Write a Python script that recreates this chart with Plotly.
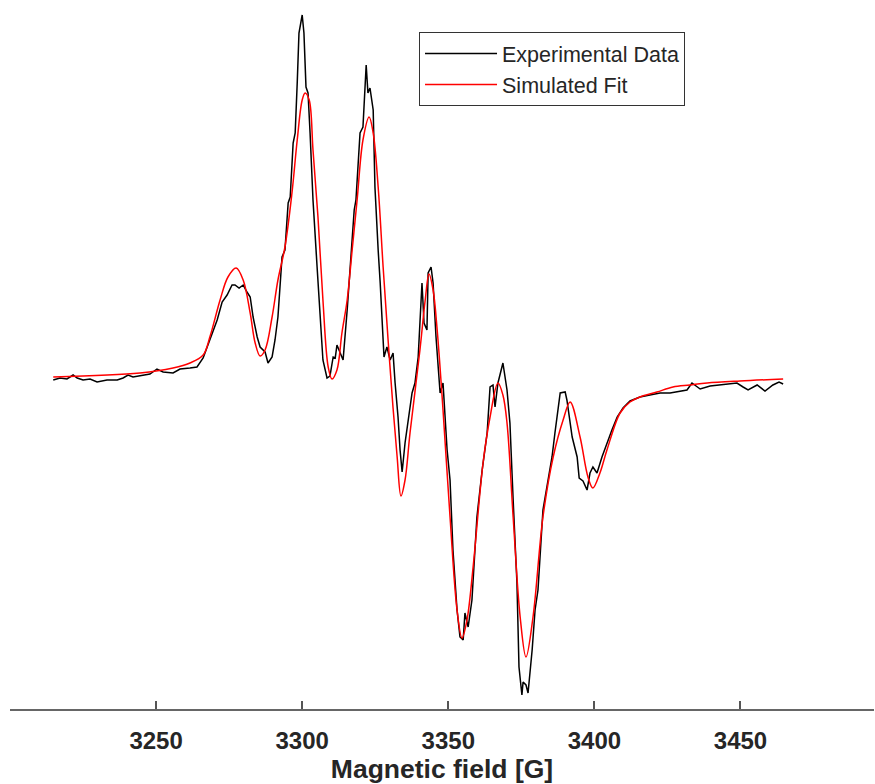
import plotly.graph_objects as go

# Experimental EPR spectrum (field in G, intensity in arbitrary units)
field_exp = [3214.8, 3217.1, 3219.5, 3221.6, 3223.0, 3225.0, 3227.4, 3229.8, 3233.2, 3236.7,
             3238.7, 3240.4, 3242.1, 3244.5, 3247.9, 3250.3, 3252.4, 3255.8, 3258.2, 3261.6,
             3264.0, 3266.1, 3268.5, 3270.9, 3272.6, 3274.3, 3276.0, 3277.0, 3278.4, 3279.8,
             3281.1, 3282.2, 3283.2, 3284.6, 3285.6, 3287.3, 3288.3, 3289.7, 3290.7, 3291.7,
             3293.1, 3294.1, 3295.2, 3295.9, 3296.9, 3297.6, 3298.3, 3298.9, 3300.0, 3300.6,
             3301.3, 3302.0, 3302.7, 3303.7, 3305.1, 3306.1, 3307.1, 3308.5, 3309.5, 3310.6,
             3311.3, 3311.9, 3313.0, 3314.0, 3315.4, 3317.1, 3317.8, 3318.4, 3319.8, 3320.8,
             3321.9, 3322.5, 3323.2, 3324.3, 3324.9, 3326.0, 3326.7, 3328.0, 3329.0, 3330.1,
             3331.1, 3331.8, 3332.8, 3333.5, 3334.2, 3335.2, 3336.2, 3337.6, 3338.6, 3339.7,
             3341.0, 3341.7, 3342.7, 3343.1, 3344.1, 3344.8, 3345.8, 3347.2, 3348.2, 3349.6,
             3350.6, 3351.6, 3353.0, 3354.0, 3355.1, 3355.7, 3356.8, 3358.1, 3359.8, 3361.6,
             3363.3, 3364.3, 3365.3, 3366.0, 3367.0, 3368.7, 3370.1, 3371.1, 3372.2, 3373.5,
             3374.2, 3375.2, 3375.6, 3376.6, 3377.3, 3378.7, 3379.7, 3380.7, 3382.4, 3384.1,
             3385.5, 3386.5, 3388.3, 3390.0, 3390.6, 3392.4, 3394.1, 3394.8, 3396.1, 3397.5,
             3398.5, 3399.5, 3400.9, 3402.6, 3404.3, 3406.0, 3407.8, 3409.8, 3412.2, 3415.6,
             3419.0, 3422.5, 3425.9, 3429.3, 3431.7, 3433.4, 3436.2, 3439.6, 3443.0, 3446.4,
             3448.8, 3450.9, 3452.6, 3455.7, 3458.4, 3461.1, 3463.2, 3464.6]
intensity_exp = [0, 2, 1, 5, 2, 0, 1, -2, 0, 0,
                 2, 5, 3, 4, 6, 11, 8, 7, 11, 12,
                 13, 22, 40, 60, 78, 85, 95, 95, 92, 95,
                 88, 83, 63, 43, 33, 28, 17, 23, 40, 63,
                 123, 130, 177, 183, 237, 247, 297, 347, 365, 347,
                 293, 287, 247, 180, 113, 60, 20, 2, 4, 23,
                 22, 35, 27, 20, 70, 145, 170, 180, 247, 253,
                 315, 287, 292, 270, 193, 130, 97, 23, 33, 20,
                 27, -3, -37, -70, -92, -63, -43, -13, -3, 23,
                 97, 57, 50, 107, 113, 97, 43, -13, -3, -70,
                 -100, -170, -230, -257, -260, -233, -247, -220, -137, -90,
                 -53, -7, -5, -27, -3, 17, -10, -43, -120, -203,
                 -287, -315, -302, -305, -313, -270, -230, -210, -130, -103,
                 -77, -53, -13, -12, -20, -57, -77, -98, -101, -110,
                 -93, -87, -93, -77, -63, -50, -37, -28, -21, -17,
                 -15, -13, -13, -11, -10, -3, -9, -6, -5, -4,
                 -3, -7, -10, -5, -11, -5, -2, -4]

# Simulated fit
field_sim = [3214.8, 3244.5, 3255.8, 3261.6, 3266.1, 3268.5, 3271.9, 3274.6, 3277.4, 3279.8,
             3282.2, 3283.9, 3285.6, 3287.3, 3289.7, 3291.7, 3294.1, 3296.5, 3298.3, 3300.0,
             3301.0, 3302.4, 3303.7, 3305.4, 3307.1, 3308.9, 3310.2, 3311.9, 3313.6, 3315.4,
             3317.1, 3318.8, 3320.8, 3322.9, 3324.3, 3326.0, 3327.7, 3329.4, 3331.1, 3332.5,
             3333.8, 3335.2, 3336.9, 3340.3, 3342.1, 3343.4, 3344.8, 3346.2, 3348.2, 3350.6,
             3353.0, 3354.7, 3356.4, 3358.5, 3361.9, 3364.3, 3367.0, 3368.7, 3370.1, 3372.2,
             3374.6, 3376.6, 3379.0, 3382.4, 3385.9, 3389.3, 3391.7, 3395.1, 3397.8, 3399.5,
             3401.9, 3404.3, 3408.8, 3412.2, 3415.6, 3421.4, 3426.9, 3432.7, 3438.6, 3449.8,
             3464.6]
intensity_sim = [3, 7, 12, 17, 25, 44, 80, 103, 112, 100,
                 67, 37, 24, 30, 63, 100, 133, 187, 240, 280,
                 287, 280, 230, 163, 80, 13, 1, 10, 47, 80,
                 130, 180, 240, 263, 247, 193, 113, 40, -28, -77,
                 -116, -100, -53, 30, 80, 106, 90, 50, -30, -137,
                 -230, -258, -240, -187, -83, -37, -3, -15, -43, -137,
                 -237, -277, -237, -137, -77, -40, -22, -57, -97, -108,
                 -93, -70, -33, -22, -17, -12, -7, -5, -3, -1,
                 1]

x_ticks = [3250, 3300, 3350, 3400, 3450]

FONT = "Liberation Sans, Arial, Helvetica, sans-serif"

fig = go.Figure()
fig.add_trace(go.Scatter(x=field_exp, y=intensity_exp, mode="lines",
                         name="Experimental Data",
                         line=dict(color="#000000", width=1.5)))
fig.add_trace(go.Scatter(x=field_sim, y=intensity_sim, mode="lines",
                         name="Simulated Fit", line_shape="spline",
                         line=dict(color="#ff0000", width=1.5)))

fig.update_layout(
    width=875, height=784,
    margin=dict(l=10, r=1, t=0, b=75, autoexpand=False),
    paper_bgcolor="white", plot_bgcolor="white",
    showlegend=True,
    legend=dict(x=0.4734, y=0.9549, xanchor="left", yanchor="top",
                bgcolor="white", bordercolor="#333333", borderwidth=1,
                font=dict(family=FONT, size=21.5, color="#262626"),
                itemwidth=72, tracegroupgap=0),
    xaxis=dict(range=[3200, 3495.7], tickvals=x_ticks,
               ticktext=[str(t) for t in x_ticks],
               showgrid=False, zeroline=False,
               showline=True, linecolor="#666666", linewidth=2,
               ticks="inside", ticklen=8, tickwidth=1.5, tickcolor="#555555",
               tickfont=dict(family=FONT, size=24, color="#262626", weight="bold"),
               ticklabelstandoff=9,
               title=dict(text="Magnetic field [G]", standoff=9,
                          font=dict(family=FONT, size=26.5, color="#262626", weight="bold"))),
    yaxis=dict(range=[-329, 380], visible=False),
)

# Remove the default page margin so the 875x784 figure fills the window exactly.
fig.write_html("out.html",
               config={"displayModeBar": False},
               post_script="document.body.style.margin='0';document.body.style.overflow='hidden';")
